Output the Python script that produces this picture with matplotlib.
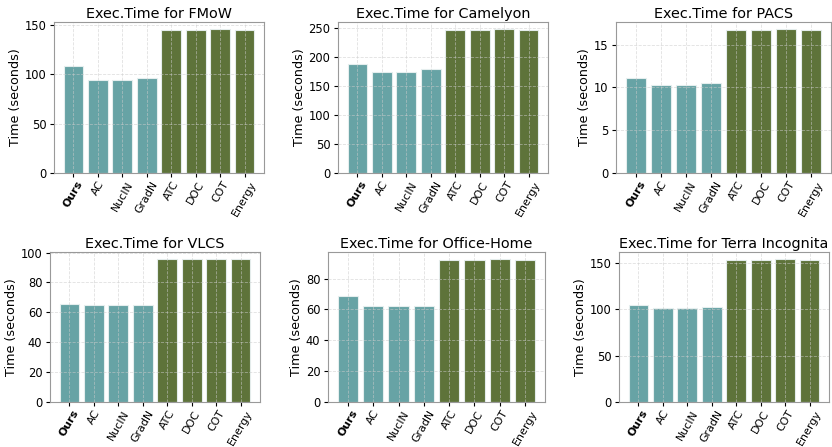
import matplotlib
matplotlib.use("Agg")
import matplotlib.pyplot as plt
from matplotlib.ticker import MultipleLocator

methods = ["Ours", "AC", "NucIN", "GradN", "ATC", "DOC", "COT", "Energy"]
datasets = ["FMoW", "Camelyon", "PACS", "VLCS", "Office-Home", "Terra Incognita"]

fmow = [108.7, 94.6, 94.5, 96.0, 145.0, 145.0, 145.6, 145.0]
camelyon = [187.7, 173.4, 173.4, 178.5, 246.0, 246.0, 247.8, 246.0]
pacs = [11.16, 10.23, 10.23, 10.53, 16.74, 16.74, 16.81, 16.74]
vlcs = [65.6, 64.7, 64.7, 64.8, 95.6, 95.6, 95.6, 95.6]
office_home = [68.9, 62.1, 62.1, 62.5, 92.2, 92.2, 92.6, 92.2]
terra = [104.5, 101.7, 101.7, 102.2, 153.6, 153.6, 154.3, 153.6]

times = [fmow, camelyon, pacs, vlcs, office_home, terra]
tick_steps = [50, 50, 5, 20, 20, 50]

teal = "#5F9EA0"
olive = "#556B2F"
colors = [teal] * 4 + [olive] * 4

W, H = 832, 447
# axes boxes in pixels: left, top, width, height
boxes = [(54, 22, 210, 151), (338, 22, 210, 151), (616, 22, 215, 151),
         (50, 252, 210, 150), (328, 252, 217, 150), (619, 252, 210, 150)]

fig = plt.figure(figsize=(W / 100, H / 100), dpi=100)

for name, vals, step, (l, t, w, h) in zip(datasets, times, tick_steps, boxes):
    ax = fig.add_axes([l / W, 1 - (t + h) / H, w / W, h / H])
    ax.grid(True, linestyle="--", color="#cccccc", linewidth=0.6, alpha=0.6)
    ax.bar(range(len(methods)), vals, color=colors, alpha=0.95,
           edgecolor="#e8f0f0", linewidth=0.8)
    ax.set_title("Exec.Time for " + name, fontsize=10.4, pad=3)
    ax.set_ylabel("Time (seconds)", fontsize=9.2, labelpad=2)
    ax.yaxis.set_major_locator(MultipleLocator(step))
    ax.set_xticks(range(len(methods)))
    ax.set_xticklabels(methods, rotation=60, ha="center", fontsize=7.9)
    ax.get_xticklabels()[0].set_fontweight("bold")
    ax.tick_params(axis="y", labelsize=8.3, length=3, pad=2.5)
    ax.tick_params(axis="x", length=3, pad=1.5)
    for s in ax.spines.values():
        s.set_color("#999999")

fig.savefig("out.png", dpi=100)
